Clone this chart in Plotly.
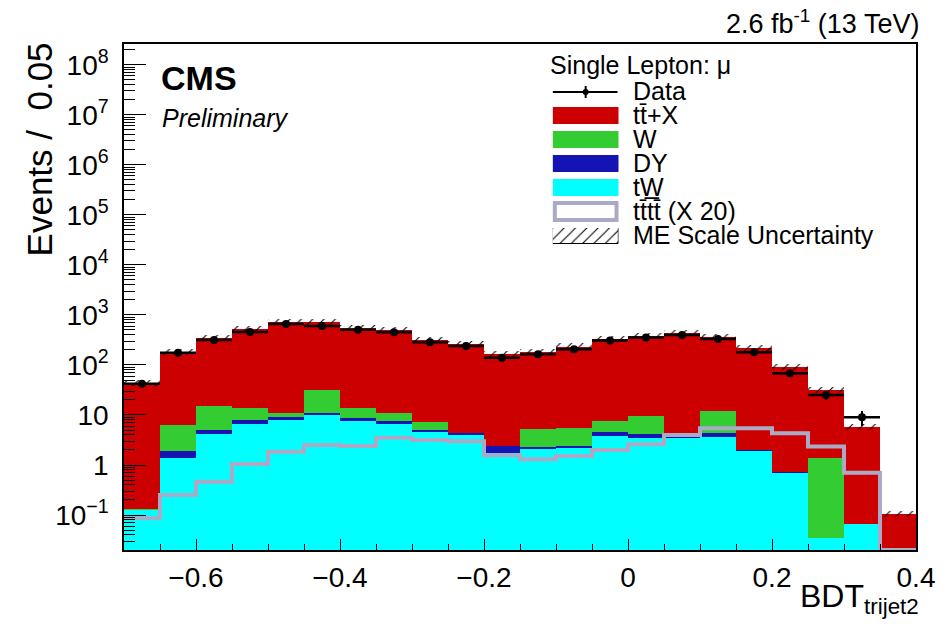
import numpy as np
import plotly.graph_objects as go

# ---------------- data ----------------
bin_edges = [-0.70, -0.65, -0.60, -0.55, -0.50, -0.45, -0.40, -0.35, -0.30, -0.25, -0.20,
             -0.15, -0.10, -0.05, 0.00, 0.05, 0.10, 0.15, 0.20, 0.25, 0.30, 0.35, 0.40]

tW_vals = [0.126, 1.36, 4.17, 6.5, 7.9, 9.85, 7.7, 6.6, 4.57, 4.0, 1.77,
           2.12, 2.22, 3.8, 3.5, 3.5, 3.7, 1.9, 0.70, 0.034, 0.066, 0.0]
dy_vals = [0.001, 0.58, 0.83, 1.4, 1.4, 0.95, 1.0, 1.0, 0.43, 0.3, 0.67,
           0.21, 0.22, 0.7, 0.7, 0.05, 0.6, 0.1, 0.02, 0.001, 0.0, 0.0]
w_vals = [0.003, 4.4, 10.0, 6.1, 1.5, 20.2, 5.1, 3.2, 2.4, 0.1, 0.01,
          2.9, 3.1, 3.1, 5.3, 0.05, 7.9, 0.0, 0.01, 1.35, 0.001, 0.0]
ttx_vals = [43, 174, 326, 503, 725, 693, 527, 479, 309, 255, 160,
            180, 228, 318, 370, 426, 357, 220, 92, 30.2, 5.7, 0.105]
tttt_x20 = [0.086, 0.25, 0.46, 1.05, 1.85, 2.5, 2.4, 3.5, 3.16, 3.0, 1.56,
            1.3, 1.51, 2.0, 2.6, 4.0, 5.4, 5.4, 4.3, 2.33, 0.7, 0.0]
data_vals = [42, 175, 316, 457, 661, 603, 504, 450, 284, 240, 140,
             163, 206, 307, 352, 398, 331, 179, 68, 25, 9, 0]
me_scale_unc = 0.15

x_tickvals = [-0.6, -0.4, -0.2, 0.0, 0.2, 0.4]
x_ticktext = ["\u22120.6", "\u22120.4", "\u22120.2", "0", "0.2", "0.4"]
y_tickvals = [1e-1, 1, 10, 1e2, 1e3, 1e4, 1e5, 1e6, 1e7, 1e8]
y_ticktext = ["10<sup>\u22121</sup>", "1", "10", "10<sup>2</sup>", "10<sup>3</sup>",
              "10<sup>4</sup>", "10<sup>5</sup>", "10<sup>6</sup>", "10<sup>7</sup>", "10<sup>8</sup>"]

# ---------------- styles ----------------
C_RED = "#cc0000"
C_GREEN = "#33cc33"
C_BLUE = "#1414b4"
C_CYAN = "#00ffff"
C_GREY = "#aaaac6"
FONT = "Liberation Sans"

YMIN, YMAX = 0.02, 2.6e8

edges = np.array(bin_edges)
centers = 0.5 * (edges[:-1] + edges[1:])
widths = np.diff(edges)

tW = np.array(tW_vals)
dy = np.array(dy_vals)
w = np.array(w_vals)
ttx = np.array(ttx_vals)
cum_tw = tW
cum_dy = cum_tw + dy
cum_w = cum_dy + w
total = cum_w + ttx

fig = go.Figure()

for vals, col in [(total, C_RED), (cum_w, C_GREEN), (cum_dy, C_BLUE), (cum_tw, C_CYAN)]:
    fig.add_trace(go.Bar(x=centers, y=vals, width=widths, marker=dict(color=col, line=dict(width=0)),
                         showlegend=False, hoverinfo="skip"))

# tttt x20 outline histogram
tt = np.array(tttt_x20, dtype=float)
tt = np.where(tt <= 0, YMIN, tt)
fig.add_trace(go.Scatter(x=list(edges), y=list(tt) + [tt[-1]], mode="lines",
                         line=dict(shape="hv", color=C_GREY, width=4), showlegend=False, hoverinfo="skip"))

# ME scale uncertainty hatch
lo = total / (1 + me_scale_unc)
hi = total * (1 + me_scale_unc)
fig.add_trace(go.Bar(x=centers, y=hi - lo, base=lo, width=widths,
                     marker=dict(color="black", line=dict(width=0),
                                 pattern=dict(shape="/", fgcolor="black", bgcolor="rgba(0,0,0,0)",
                                              size=8, solidity=0.14, fillmode="replace")),
                     showlegend=False, hoverinfo="skip"))

# data
d = np.array(data_vals, dtype=float)
dmask = d > 0
fig.add_trace(go.Scatter(x=centers[dmask], y=d[dmask], mode="markers",
                         marker=dict(color="black", size=8),
                         error_x=dict(type="data", array=(widths / 2)[dmask], color="black", thickness=2.5, width=0),
                         error_y=dict(type="data", array=np.sqrt(d[dmask]), color="black", thickness=2, width=0),
                         showlegend=False, hoverinfo="skip"))

# ---------------- layout ----------------
L, R, T, B = 124, 27, 44, 74
W_, H_ = 947, 624
PW, PH = W_ - L - R, H_ - T - B


def px_x(px):
    return (px - L) / PW


def px_y(py):
    return (T + PH - py) / PH


fig.update_layout(
    width=W_, height=H_, margin=dict(l=L, r=R, t=T, b=B),
    paper_bgcolor="white", plot_bgcolor="white",
    barmode="overlay", bargap=0, showlegend=False,
    font=dict(family=FONT, color="black"),
    xaxis=dict(range=[edges[0], edges[-1]], tickvals=x_tickvals, ticktext=x_ticktext,
               ticks="inside", ticklen=11, tickwidth=1, tickcolor="black",
               minor=dict(dtick=0.05, tick0=0, ticks="inside", ticklen=6, tickcolor="black", showgrid=False),
               showline=True, linecolor="black", linewidth=1.5, mirror=True,
               showgrid=False, zeroline=False, tickfont=dict(size=28, family=FONT),
               ticklabelstandoff=2),
    yaxis=dict(type="log", range=[np.log10(YMIN), np.log10(YMAX)], tickvals=y_tickvals, ticktext=y_ticktext,
               ticks="inside", ticklen=22, tickwidth=1, tickcolor="black",
               minor=dict(dtick="D1", ticks="inside", ticklen=11, tickcolor="black", showgrid=False),
               showline=True, linecolor="black", linewidth=1.5, mirror=True,
               showgrid=False, zeroline=False, tickfont=dict(size=28, family=FONT),
               ticklabelstandoff=8),
    xaxis2=dict(domain=[px_x(555), px_x(621)], anchor="y2", range=[-0.5, 0.5], visible=False),
    yaxis2=dict(domain=[px_y(244), px_y(228)], anchor="x2", range=[0, 1], visible=False),
)

# legend hatch swatch (drawn with same pattern on a tiny helper axis)
fig.add_trace(go.Bar(x=[0], y=[1], width=[1], xaxis="x2", yaxis="y2",
                     marker=dict(color="black", line=dict(width=1, color="black"),
                                 pattern=dict(shape="/", fgcolor="black", bgcolor="white",
                                              size=8, solidity=0.14, fillmode="replace")),
                     showlegend=False, hoverinfo="skip"))

ann = []
ann.append(dict(text="<b>CMS</b>", x=px_x(159), y=px_y(78), xanchor="left", yanchor="middle",
                font=dict(size=34, family=FONT)))
ann.append(dict(text="<i>Preliminary</i>", x=px_x(160), y=px_y(118), xanchor="left", yanchor="middle",
                font=dict(size=25, family=FONT)))
ann.append(dict(text="2.6 fb<sup>-1</sup> (13 TeV)", x=px_x(925), y=px_y(22), xanchor="right", yanchor="middle",
                font=dict(size=27, family=FONT)))
ann.append(dict(text="BDT<sub>trijet2</sub>", x=px_x(925), y=px_y(576), xanchor="right", yanchor="top",
                font=dict(size=32, family=FONT)))
ann.append(dict(text="Events /  0.05", x=px_x(39), y=px_y(40), xanchor="center", yanchor="top",
                textangle=-90, font=dict(size=35, family=FONT)))

# legend
LEG_FS = 25
ann.append(dict(text="Single Lepton: \u03bc", x=px_x(550), y=px_y(65), xanchor="left", yanchor="middle",
                font=dict(size=LEG_FS, family=FONT)))
legend_rows = [
    ("Data", 91, None),
    ("t\u0074\u0304+X", 115, C_RED),
    ("W", 139, C_GREEN),
    ("DY", 163, C_BLUE),
    ("tW\u0332", 187, C_CYAN),
    ("t\u0074\u0304t\u0074\u0304 (X 20)", 211, "tttt"),
    ("ME Scale Uncertainty", 235, "hatch"),
]
shapes = []
for label, yc, kind in legend_rows:
    ann.append(dict(text=label, x=px_x(634), y=px_y(yc), xanchor="left", yanchor="middle",
                    font=dict(size=LEG_FS, family=FONT)))
    if kind is None:
        shapes.append(dict(type="line", xref="paper", yref="paper", x0=px_x(555), x1=px_x(620),
                           y0=px_y(yc + 1), y1=px_y(yc + 1), line=dict(color="black", width=2)))
        shapes.append(dict(type="line", xref="paper", yref="paper", x0=px_x(588), x1=px_x(588),
                           y0=px_y(yc - 5), y1=px_y(yc + 7), line=dict(color="black", width=2)))
        shapes.append(dict(type="circle", xref="paper", yref="paper", x0=px_x(585), x1=px_x(591),
                           y0=px_y(yc + 4), y1=px_y(yc - 2), fillcolor="black", line=dict(width=0)))
    elif kind == "tttt":
        shapes.append(dict(type="rect", xref="paper", yref="paper", x0=px_x(557), x1=px_x(619),
                           y0=px_y(yc + 9), y1=px_y(yc - 8), fillcolor="white",
                           line=dict(color=C_GREY, width=4)))
    elif kind == "hatch":
        pass
    else:
        shapes.append(dict(type="rect", xref="paper", yref="paper", x0=px_x(555), x1=px_x(621),
                           y0=px_y(yc + 9), y1=px_y(yc - 8), fillcolor=kind, line=dict(width=0)))

for a in ann:
    a.update(xref="paper", yref="paper", showarrow=False)
fig.update_layout(annotations=ann, shapes=shapes)

fig.write_html("out.html")
